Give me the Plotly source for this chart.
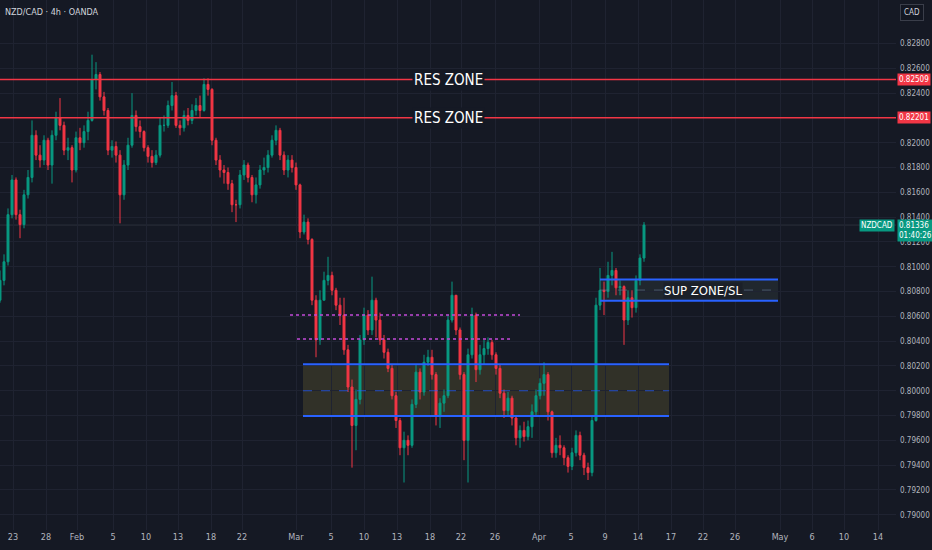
import plotly.graph_objects as go

# ---------------- data (8h-aggregated candles) ----------------
closes = [0.8089,0.8104,0.8142,0.8170,0.8142,0.8134,0.8158,0.8172,0.8206,0.8190,
          0.8186,0.8202,0.8182,0.8206,0.8220,0.8214,0.8194,0.8196,0.8178,0.8204,
          0.8200,0.8209,0.8218,0.8251,0.8255,0.8237,0.8226,0.8194,0.8197,0.8190,
          0.8158,0.8182,0.8198,0.8222,0.8213,0.8209,0.8196,0.8189,0.8184,0.8190,
          0.8214,0.8214,0.8230,0.8238,0.8214,0.8212,0.8222,0.8218,0.8226,0.8230,
          0.8226,0.8247,0.8243,0.8202,0.8186,0.8178,0.8176,0.8167,0.8150,0.8150,
          0.8174,0.8182,0.8172,0.8158,0.8166,0.8178,0.8180,0.8190,0.8202,0.8210,
          0.8190,0.8178,0.8186,0.8180,0.8166,0.8128,0.8136,0.8122,0.8073,0.8041,
          0.8073,0.8089,0.8093,0.8081,0.8069,0.8061,0.8033,0.8003,0.7972,0.7993,
          0.8041,0.8061,0.8049,0.8073,0.8057,0.8041,0.8031,0.8018,0.7996,0.7976,
          0.7954,0.7960,0.7956,0.7989,0.8015,0.7999,0.8023,0.8027,0.8013,0.7980,
          0.7990,0.7996,0.8057,0.8077,0.8049,0.8013,0.7960,0.8029,0.8061,0.8017,
          0.8029,0.8034,0.8039,0.8029,0.8018,0.7998,0.7984,0.7994,0.7978,0.7962,
          0.7968,0.7963,0.7971,0.7983,0.7996,0.8006,0.8013,0.7983,0.7950,0.7956,
          0.7954,0.7946,0.7939,0.7950,0.7964,0.7948,0.7938,0.7934,0.7976,0.8069,
          0.8081,0.8080,0.8093,0.8097,0.8083,0.8084,0.8057,0.8075,0.8067,0.8089,
          0.8107,0.81336]
opens = [0.8073,0.8089,0.8104,0.8142,0.8170,0.8142,0.8134,0.8158,0.8172,0.8206,
         0.8190,0.8186,0.8202,0.8182,0.8206,0.8220,0.8214,0.8194,0.8196,0.8178,
         0.8204,0.8200,0.8209,0.8218,0.8251,0.8255,0.8237,0.8226,0.8194,0.8197,
         0.8190,0.8158,0.8182,0.8198,0.8222,0.8213,0.8209,0.8196,0.8189,0.8184,
         0.8190,0.8214,0.8214,0.8230,0.8238,0.8214,0.8212,0.8222,0.8218,0.8226,
         0.8230,0.8226,0.8247,0.8243,0.8202,0.8186,0.8178,0.8176,0.8167,0.8150,
         0.8150,0.8174,0.8182,0.8172,0.8158,0.8166,0.8178,0.8180,0.8190,0.8202,
         0.8210,0.8190,0.8178,0.8186,0.8180,0.8166,0.8128,0.8136,0.8122,0.8073,
         0.8041,0.8073,0.8089,0.8093,0.8081,0.8069,0.8061,0.8033,0.8003,0.7972,
         0.7993,0.8041,0.8061,0.8049,0.8073,0.8057,0.8041,0.8031,0.8018,0.7996,
         0.7976,0.7954,0.7960,0.7956,0.7989,0.8015,0.7999,0.8023,0.8027,0.8013,
         0.7980,0.7990,0.7996,0.8057,0.8077,0.8049,0.8013,0.7960,0.8029,0.8061,
         0.8017,0.8029,0.8034,0.8039,0.8029,0.8018,0.7998,0.7984,0.7994,0.7978,
         0.7962,0.7968,0.7963,0.7971,0.7983,0.7996,0.8006,0.8013,0.7983,0.7950,
         0.7956,0.7954,0.7946,0.7939,0.7950,0.7964,0.7948,0.7938,0.7934,0.7976,
         0.8069,0.8081,0.8080,0.8093,0.8097,0.8083,0.8084,0.8057,0.8075,0.8067,
         0.8089,0.8107]
highs = [0.8097,0.8110,0.8147,0.8174,0.8172,0.8146,0.8162,0.8178,0.8218,0.8210,
         0.8198,0.8206,0.8204,0.8210,0.8225,0.8236,0.8217,0.8204,0.8198,0.8209,
         0.8212,0.8214,0.8225,0.8271,0.8265,0.8257,0.8241,0.8228,0.8202,0.8201,
         0.8194,0.8186,0.8204,0.8240,0.8226,0.8218,0.8210,0.8198,0.8194,0.8194,
         0.8220,0.8222,0.8234,0.8249,0.8241,0.8218,0.8226,0.8228,0.8231,0.8236,
         0.8238,0.8252,0.8252,0.8244,0.8204,0.8190,0.8182,0.8180,0.8170,0.8154,
         0.8178,0.8186,0.8184,0.8174,0.8172,0.8182,0.8188,0.8194,0.8206,0.8214,
         0.8212,0.8193,0.8190,0.8190,0.8184,0.8167,0.8142,0.8139,0.8123,0.8077,
         0.8081,0.8096,0.8108,0.8096,0.8083,0.8075,0.8075,0.8037,0.8009,0.8001,
         0.8045,0.8067,0.8065,0.8092,0.8075,0.8063,0.8045,0.8034,0.8021,0.7999,
         0.7978,0.7967,0.7964,0.7993,0.8021,0.8018,0.8029,0.8033,0.8033,0.8015,
         0.7994,0.8001,0.8061,0.8088,0.8077,0.8051,0.8015,0.8034,0.8067,0.8063,
         0.8037,0.8041,0.8043,0.8041,0.8031,0.8021,0.8001,0.7999,0.7996,0.7980,
         0.7972,0.7975,0.7976,0.7989,0.8001,0.8010,0.8023,0.8015,0.7984,0.7962,
         0.7964,0.7956,0.7948,0.7954,0.7968,0.7967,0.7950,0.7942,0.7980,0.8075,
         0.8099,0.8088,0.8104,0.8112,0.8099,0.8089,0.8085,0.8081,0.8081,0.8093,
         0.8110,0.8136]
lows = [0.8071,0.8085,0.8101,0.8139,0.8138,0.8123,0.8131,0.8155,0.8168,0.8186,
        0.8180,0.8182,0.8178,0.8167,0.8202,0.8210,0.8190,0.8186,0.8168,0.8176,
        0.8194,0.8196,0.8202,0.8217,0.8243,0.8234,0.8222,0.8190,0.8188,0.8184,
        0.8135,0.8154,0.8178,0.8196,0.8209,0.8204,0.8193,0.8184,0.8180,0.8182,
        0.8188,0.8209,0.8212,0.8226,0.8212,0.8206,0.8209,0.8214,0.8215,0.8222,
        0.8220,0.8225,0.8238,0.8198,0.8182,0.8172,0.8167,0.8162,0.8144,0.8136,
        0.8147,0.8170,0.8168,0.8152,0.8151,0.8163,0.8174,0.8176,0.8188,0.8198,
        0.8186,0.8174,0.8172,0.8176,0.8162,0.8123,0.8126,0.8118,0.8069,0.8027,
        0.8037,0.8073,0.8085,0.8077,0.8065,0.8053,0.8029,0.7999,0.7938,0.7952,
        0.7989,0.8037,0.8045,0.8045,0.8043,0.8037,0.8026,0.8015,0.7993,0.7970,
        0.7948,0.7926,0.7948,0.7954,0.7986,0.7993,0.7996,0.8020,0.8009,0.7972,
        0.7970,0.7983,0.7994,0.8055,0.8045,0.8009,0.7944,0.7926,0.8026,0.8007,
        0.8013,0.8021,0.8029,0.8025,0.8013,0.7994,0.7978,0.7980,0.7972,0.7956,
        0.7954,0.7959,0.7960,0.7962,0.7980,0.7993,0.7996,0.7976,0.7946,0.7946,
        0.7948,0.7940,0.7934,0.7936,0.7947,0.7944,0.7932,0.7928,0.7931,0.7975,
        0.8065,0.8061,0.8075,0.8085,0.8077,0.8077,0.8037,0.8053,0.8059,0.8063,
        0.8085,0.8104]

# x-axis tick labels (positions in bar units)
tick_pos = [3.25, 11.5, 19.25, 28.25, 36.5, 44.5, 52.75, 60.5, 74, 82.75, 91, 99.25,
            107.5, 115.25, 123.75, 134.75, 142.75, 151.25, 159.5, 167.75, 175.75,
            183.75, 195, 203, 211, 219.5]
tick_text = ["23", "28", "Feb", "5", "10", "13", "18", "22", "Mar", "5", "10", "13",
             "18", "22", "26", "Apr", "5", "9", "14", "17", "22", "26", "May", "6",
             "10", "14"]

price_ticks = [0.790, 0.792, 0.794, 0.796, 0.798, 0.800, 0.802, 0.804, 0.806, 0.808,
               0.810, 0.812, 0.814, 0.816, 0.818, 0.820, 0.822, 0.824, 0.826, 0.828]

res_levels = [0.82509, 0.82201]
last_price = 0.81336
big_zone = [75.75, 167.25, 0.79796, 0.80213, 0.80000]     # x0, x1, y0, y1, mid
sup_zone = [150.0, 194.5, 0.80726, 0.80898, 0.80812]
dotted_lines = [[72.5, 130.0, 0.80611], [74.25, 128.0, 0.80417]]

BG = "#151924"
GRID = "#1f2331"
TXT = "#b2b5be"
UP = "#089981"
DN = "#f23645"
BLUE = "#2962ff"
FONT = "Liberation Sans Narrow, DejaVu Sans Condensed, Roboto, sans-serif"

N = len(closes)
fig = go.Figure()
fig.add_trace(go.Candlestick(
    x=list(range(N)), open=opens, high=highs, low=lows, close=closes,
    increasing=dict(line=dict(color=UP, width=1), fillcolor=UP),
    decreasing=dict(line=dict(color=DN, width=1), fillcolor=DN),
    whiskerwidth=0, hoverinfo="skip", showlegend=False))

shapes = []
shapes.append(dict(type="line", xref="paper", x0=0, x1=1, y0=last_price, y1=last_price,
                   line=dict(color="#2c303c", width=1), layer="below"))
for lv in res_levels:
    shapes.append(dict(type="line", xref="paper", x0=0, x1=1, y0=lv, y1=lv,
                       line=dict(color=DN, width=1.5)))
x0, x1, y0, y1, ym = big_zone
shapes.append(dict(type="rect", x0=x0, x1=x1, y0=y0, y1=y1,
                   fillcolor="rgba(255,230,70,0.12)", line=dict(width=0), layer="below"))
for yy in (y0, y1):
    shapes.append(dict(type="line", x0=x0, x1=x1, y0=yy, y1=yy, line=dict(color=BLUE, width=2)))
shapes.append(dict(type="line", x0=x0, x1=x1, y0=ym, y1=ym,
                   line=dict(color="rgba(41,98,255,0.7)", width=1, dash="dash")))
x0, x1, y0, y1, ym = sup_zone
shapes.append(dict(type="rect", x0=x0, x1=x1, y0=y0, y1=y1,
                   fillcolor="rgba(140,170,140,0.10)", line=dict(width=0), layer="below"))
for yy in (y0, y1):
    shapes.append(dict(type="line", x0=x0, x1=x1, y0=yy, y1=yy, line=dict(color=BLUE, width=2)))
shapes.append(dict(type="line", x0=x0, x1=x1, y0=ym, y1=ym,
                   line=dict(color="rgba(100,120,150,0.6)", width=1, dash="dash")))
for a, b, lv in dotted_lines:
    shapes.append(dict(type="line", x0=a, x1=b, y0=lv, y1=lv,
                       line=dict(color="#c24ad8", width=1.6, dash="dot")))

annotations = []
for lv in res_levels:
    annotations.append(dict(text="RES ZONE", xref="paper", x=0.5, y=lv, yref="y",
                            showarrow=False, bgcolor=BG, borderpad=1,
                            font=dict(family=FONT, size=15, color="#ffffff")))
    annotations.append(dict(text=f"{lv:.5f}", xref="paper", x=1, xanchor="left", xshift=1,
                            y=lv, yref="y", showarrow=False, bgcolor=DN, borderpad=1,
                            font=dict(family=FONT, size=8, color="#ffffff")))
annotations.append(dict(text="SUP ZONE/SL", x=175.75, y=sup_zone[4], showarrow=False,
                        bgcolor="#1b2029", borderpad=0,
                        font=dict(family=FONT, size=13, color="#ffffff")))
annotations.append(dict(text=f"{last_price:.5f}<br>01:40:26", xref="paper", x=1, xanchor="left",
                        xshift=1, y=last_price, yref="y", yanchor="top", yshift=6,
                        showarrow=False, bgcolor=UP, borderpad=1, align="left",
                        font=dict(family=FONT, size=8, color="#ffffff")))
annotations.append(dict(text="NZDCAD", xref="paper", x=1, xanchor="right", xshift=-1,
                        y=last_price, yref="y", showarrow=False, bgcolor=UP, borderpad=1,
                        font=dict(family=FONT, size=8, color="#ffffff")))
annotations.append(dict(text="NZD/CAD · 4h · OANDA", xref="paper", yref="paper", x=0, y=1,
                        xanchor="left", yanchor="top", xshift=3, yshift=-5, showarrow=False,
                        font=dict(family=FONT, size=9, color="#d1d4dc")))
annotations.append(dict(text="CAD", xref="paper", yref="paper", x=1, y=1, xanchor="left",
                        yanchor="top", xshift=4, yshift=-4, showarrow=False,
                        bgcolor="#131722", bordercolor="#3a3e4a", borderwidth=1, borderpad=3,
                        font=dict(family=FONT, size=8, color="#d1d4dc")))

fig.update_layout(
    width=932, height=550,
    margin=dict(l=0, r=36, t=0, b=20),
    paper_bgcolor=BG, plot_bgcolor=BG,
    shapes=shapes, annotations=annotations,
    xaxis=dict(range=[0, 224], tickvals=tick_pos, ticktext=tick_text,
               showgrid=True, gridcolor=GRID, gridwidth=1, zeroline=False,
               rangeslider=dict(visible=False), showline=False, ticks="",
               tickfont=dict(family=FONT, size=9, color=TXT)),
    yaxis=dict(range=[0.78877, 0.83151], side="right", tickvals=price_ticks,
               tickformat=".5f", showgrid=True, gridcolor=GRID, gridwidth=1,
               zeroline=False, ticks="", ticklabelstandoff=3,
               tickfont=dict(family=FONT, size=8, color=TXT)),
)

fig.write_html("out.html", config={"displayModeBar": False},
               post_script="document.body.style.margin='0px';document.body.style.overflow='hidden';document.body.style.background='#151924';")
